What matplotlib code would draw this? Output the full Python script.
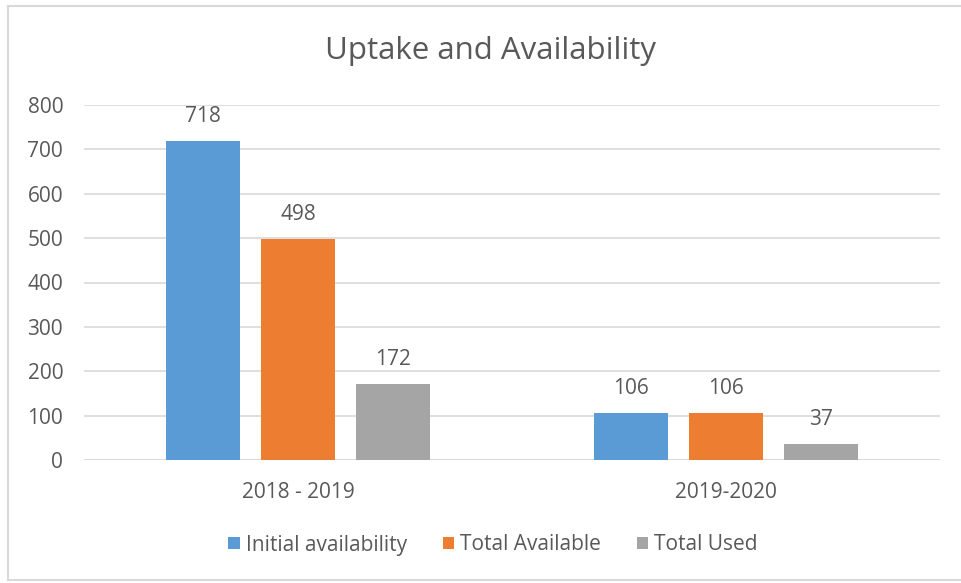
import matplotlib

matplotlib.use("Agg")
import matplotlib.pyplot as plt
import numpy as np
from matplotlib.lines import Line2D

categories = ["2018 - 2019", "2019-2020"]
series_names = ["Initial availability", "Total Available", "Total Used"]
initial_availability = [718, 106]
total_available = [498, 106]
total_used = [172, 37]
y_ticks = [0, 100, 200, 300, 400, 500, 600, 700, 800]

colours = ["#5b9bd5", "#ed7d31", "#a5a5a5"]
text_colour = "#595959"
grid_colour = "#d9d9d9"

plt.rcParams["font.family"] = ["Open Sans", "DejaVu Sans"]

W, H, dpi = 961, 583, 100
fig = plt.figure(figsize=(W / dpi, H / dpi), dpi=dpi, facecolor="white")

# chart frame (right edge runs off the canvas)
for xs, ys in (([8, 8], [6, 580]), ([8, W], [6, 6]), ([8, W], [580, 580])):
    fig.add_artist(Line2D([x / W for x in xs], [1 - y / H for y in ys],
                          color="#d9d9d9", linewidth=1.5))

ax = fig.add_axes([84 / W, 1 - 460 / H, 856 / W, 355 / H])
x = np.arange(len(categories))
offset = 0.222
width = 0.173
series = [initial_availability, total_available, total_used]
for i, (name, values, colour) in enumerate(zip(series_names, series, colours)):
    bars = ax.bar(x + (i - 1) * offset, values, width, color=colour, label=name, zorder=3)
    for bar, value in zip(bars, values):
        ax.annotate(str(value), (bar.get_x() + bar.get_width() / 2, value),
                    xytext=(0, 10), textcoords="offset points",
                    ha="center", va="bottom", fontsize=15, color=text_colour)

ax.set_xlim(-0.5, len(categories) - 0.5)
ax.set_ylim(0, 800)
ax.set_yticks(y_ticks)
ax.set_xticks(x)
ax.set_xticklabels(categories)
ax.tick_params(axis="both", length=0, labelsize=15, labelcolor=text_colour)
ax.tick_params(axis="y", pad=15)
ax.tick_params(axis="x", pad=16)
ax.yaxis.grid(True, color=grid_colour, linewidth=1.2, zorder=0)
for spine in ax.spines.values():
    spine.set_visible(False)
ax.axhline(0, color=grid_colour, linewidth=1.2, zorder=2)

fig.text(490 / W, 1 - 51 / H, "Uptake and Availability", ha="center", va="center",
         fontsize=22.5, color=text_colour)

handles, labels = ax.get_legend_handles_labels()
fig.legend(handles, labels, loc="center", bbox_to_anchor=(493 / W, 1 - 545 / H),
           ncol=3, frameon=False, fontsize=15, labelcolor=text_colour,
           handlelength=0.55, handleheight=0.55, handletextpad=0.3, columnspacing=1.7)

fig.savefig("out.png", dpi=dpi)
